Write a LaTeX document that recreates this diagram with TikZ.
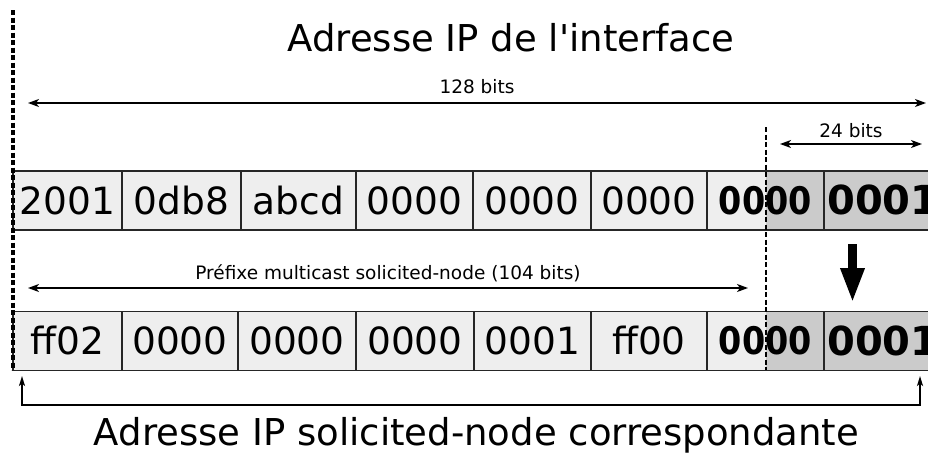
\documentclass[tikz,border=0pt]{standalone}
\usepackage{fontspec}
\newfontfamily\dejavu{DejaVu Sans}
\newfontfamily\dejavunarrow[FakeStretch=0.88]{DejaVu Sans}
\usetikzlibrary{arrows.meta}
\definecolor{cellpale}{HTML}{EEEEEE}
\definecolor{cellshade}{HTML}{CBCBCB}
\begin{document}
\begin{tikzpicture}[x=1pt,y=-1pt,
  cellbox/.style={draw=black!85, line width=1.3pt, fill=cellpale,
    minimum height=59pt, inner sep=0pt, text height=27.5pt, text depth=0pt,
    font=\dejavu\fontsize{37.5}{45}\selectfont},
  shadecell/.style={cellbox, fill=cellshade},
  heavytext/.style={font=\dejavunarrow\bfseries\fontsize{38}{45}\selectfont},
  boldtext/.style={inner sep=0pt, anchor=base west, font=\dejavu\bfseries\fontsize{40}{48}\selectfont},
  smalltext/.style={inner sep=0pt, anchor=base, font=\dejavu\fontsize{18.5}{22}\selectfont},
  titletext/.style={inner sep=0pt, anchor=base, font=\dejavu\fontsize{37}{44}\selectfont},
  dimarrow/.style={line width=1.4pt, {Stealth[length=11pt,width=8pt,inset=3pt]}-{Stealth[length=11pt,width=8pt,inset=3pt]}},
  bracketline/.style={line width=1.8pt, {Stealth[length=10pt,width=6pt,inset=2.5pt]}-{Stealth[length=10pt,width=6pt,inset=2.5pt]}},
  splitline/.style={line width=3.2pt, dash pattern=on 5pt off 2.5pt},
  bigarrow/.style={line width=9pt, -{Triangle[length=35pt,width=22pt]}}
]
\useasboundingbox (0,0) rectangle (928,455);
\begin{scope}
\clip (0,0) rectangle (928,455);

% interface address
\node[cellbox, minimum width=109pt] (a1) at (67.5,200.5) {2001};
\node[cellbox, minimum width=119pt] (a2) at (181.5,200.5) {0db8};
\node[cellbox, minimum width=115pt] (a3) at (298.5,200.5) {abcd};
\node[cellbox, minimum width=117pt] (a4) at (414.5,200.5) {0000};
\node[cellbox, minimum width=118pt] (a5) at (532,200.5) {0000};
\node[cellbox, minimum width=116pt] (a6) at (649,200.5) {0000};
\fill[cellpale] (707,171) rectangle (766,230);
\fill[cellshade] (766,171) rectangle (824,230);
\node[cellbox, fill=none, minimum width=117pt, heavytext] (a7) at (765.5,200.5) {0000};
\node[shadecell, minimum width=130pt] (a8) at (889,200.5) {};
\node[boldtext] (a8t) at (827,214.5) {0001};

% solicited-node address
\node[cellbox, minimum width=109pt] (b1) at (67.5,341) {ff02};
\node[cellbox, minimum width=116pt] (b2) at (180,341) {0000};
\node[cellbox, minimum width=118pt] (b3) at (297,341) {0000};
\node[cellbox, minimum width=118pt] (b4) at (415,341) {0000};
\node[cellbox, minimum width=117pt] (b5) at (532.5,341) {0001};
\node[cellbox, minimum width=116pt] (b6) at (649,341) {ff00};
\fill[cellpale] (707,311.5) rectangle (766,370.5);
\fill[cellshade] (766,311.5) rectangle (824,370.5);
\node[cellbox, fill=none, minimum width=117pt, heavytext] (b7) at (765.5,341) {0000};
\node[shadecell, minimum width=130pt] (b8) at (889,341) {};
\node[boldtext] (b8t) at (827,355) {0001};

% boundaries
\coordinate (l1) at (13,10);
\coordinate (l2) at (13,370);
\draw[splitline] (l1) -- (l2);
\coordinate (r1) at (766,127);
\coordinate (r2) at (766,370);
\draw[splitline, line width=2.6pt] (r1) -- (r2);

% dimensions
\coordinate (w1) at (28,103);
\coordinate (w2) at (926,103);
\draw[dimarrow] (w1) -- (w2);
\node[smalltext] (w) at (477,93.3) {128 bits};

\coordinate (s1) at (780,144);
\coordinate (s2) at (922,144);
\draw[dimarrow] (s1) -- (s2);
\node[smalltext] (s) at (851,137.3) {24 bits};

\coordinate (p1) at (28,288);
\coordinate (p2) at (748,288);
\draw[dimarrow] (p1) -- (p2);
\node[smalltext] (p) at (388,279.3) {Préfixe multicast solicited-node (104 bits)};

% copy of the low 24 bits
\coordinate (c1) at (852.5,244);
\coordinate (c2) at (852.5,303);
\draw[bigarrow] (c1) -- (c2);

% resulting address
\coordinate (k1) at (22,376);
\coordinate (k2) at (22,405);
\coordinate (k3) at (920,405);
\coordinate (k4) at (920,376);
\draw[bracketline] (k1) -- (k2) -- (k3) -- (k4);

\node[titletext] (t1) at (511,51.7) {Adresse IP de l'interface};
\node[titletext] (t2) at (476.5,445.5) {Adresse IP solicited-node correspondante};
\end{scope}
\end{tikzpicture}
\end{document}
